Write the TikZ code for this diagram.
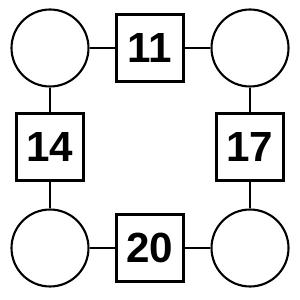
\documentclass[tikz,border=0pt]{standalone}
\usepackage{fontspec}
\setmainfont{Liberation Sans}

\begin{document}
\begin{tikzpicture}[x=0.02cm, y=-0.02cm,
  ring/.style={circle, draw, line width=1.2pt, minimum size=1.54cm, inner sep=0pt},
  numbox/.style={rectangle, draw, line width=1.2pt, minimum size=1.34cm, inner sep=0pt, font=\fontsize{24}{24}\selectfont\bfseries}]
\useasboundingbox (0,0) rectangle (300,300);
\node[ring] (C1) at (50,48) {};
\node[ring] (C2) at (250,48) {};
\node[ring] (C3) at (50,248) {};
\node[ring] (C4) at (250,248) {};
\node[numbox] (N11) at (150,48) {11};
\node[numbox] (N14) at (50,147) {14};
\node[numbox] (N17) at (250,147) {17};
\node[numbox] (N20) at (150,248) {20};
\draw[line width=1.2pt] (C1) -- (N11) -- (C2);
\draw[line width=1.2pt] (C1) -- (N14) -- (C3);
\draw[line width=1.2pt] (C2) -- (N17) -- (C4);
\draw[line width=1.2pt] (C3) -- (N20) -- (C4);
\end{tikzpicture}
\end{document}
